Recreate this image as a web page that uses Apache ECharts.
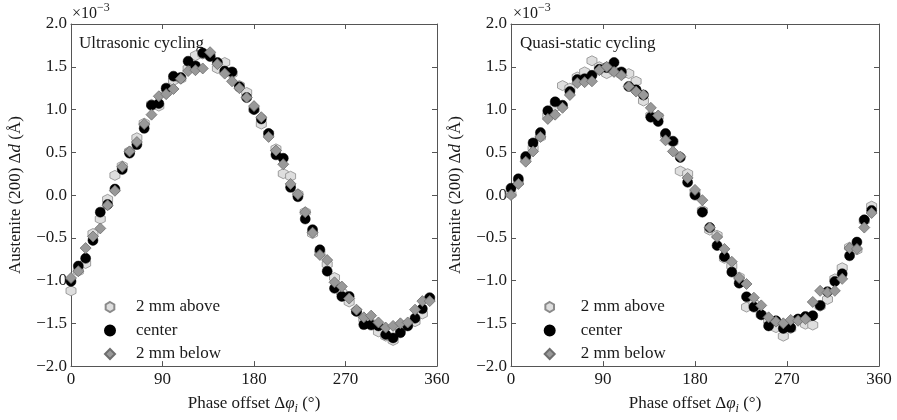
<!DOCTYPE html>
<html><head><meta charset="utf-8">
<script src="https://cdn.jsdelivr.net/npm/echarts@6/dist/echarts.min.js"></script>
<style>html,body{margin:0;padding:0;background:#fff}#c{width:897px;height:420px}</style>
</head><body><div id="c"></div>
<script>
// Phase offset (degrees)
const phase = [0,7.2,14.4,21.6,28.8,36,43.2,50.4,57.6,64.8,
  72,79.2,86.4,93.6,100.8,108,115.2,122.4,129.6,136.8,
  144,151.2,158.4,165.6,172.8,180,187.2,194.4,201.6,208.8,
  216,223.2,230.4,237.6,244.8,252,259.2,266.4,273.6,280.8,
  288,295.2,302.4,309.6,316.8,324,331.2,338.4,345.6,352.8];

// Austenite (200) Δd, in units of 1e-3 Å — Ultrasonic cycling
const ultraAbove = [-1.12,-0.89,-0.80,-0.45,-0.28,-0.05,0.23,0.34,0.51,0.67,
  0.84,1.06,1.04,1.20,1.34,1.36,1.48,1.63,1.65,1.64,
  1.48,1.55,1.42,1.28,1.20,1.00,0.83,0.72,0.54,0.25,
  0.22,0.01,-0.20,-0.45,-0.68,-0.81,-0.965,-1.14,-1.25,-1.36,
  -1.45,-1.50,-1.60,-1.65,-1.70,-1.57,-1.51,-1.48,-1.39,-1.21];
const ultraCenter = [-1.01,-0.83,-0.74,-0.53,-0.20,-0.11,0.07,0.30,0.49,0.59,
  0.78,1.05,1.07,1.25,1.39,1.375,1.565,1.51,1.66,1.62,
  1.55,1.45,1.44,1.265,1.14,1.00,0.89,0.72,0.47,0.43,
  0.09,-0.02,-0.28,-0.405,-0.64,-0.89,-1.09,-1.185,-1.185,-1.36,
  -1.515,-1.52,-1.53,-1.63,-1.67,-1.61,-1.53,-1.44,-1.33,-1.20];
const ultraBelow = [-0.97,-0.89,-0.62,-0.485,-0.39,-0.12,0.05,0.33,0.51,0.62,
  0.83,0.94,1.155,1.18,1.24,1.36,1.45,1.46,1.48,1.67,
  1.53,1.42,1.33,1.25,1.14,1.04,0.91,0.68,0.52,0.36,
  0.13,0.01,-0.20,-0.44,-0.70,-0.76,-1.02,-1.07,-1.21,-1.34,
  -1.43,-1.41,-1.49,-1.55,-1.53,-1.50,-1.49,-1.34,-1.24,-1.24];

// Quasi-static cycling
const quasiAbove = [0.01,0.15,0.42,0.55,0.68,0.93,1.03,1.28,1.25,1.38,
  1.44,1.57,1.50,1.42,1.45,1.41,1.42,1.33,1.10,0.93,
  0.92,0.70,0.62,0.28,0.25,0.02,-0.18,-0.41,-0.47,-0.74,
  -0.83,-0.96,-1.31,-1.27,-1.40,-1.47,-1.55,-1.65,-1.56,-1.45,
  -1.51,-1.52,-1.30,-1.22,-0.98,-0.85,-0.61,-0.64,-0.30,-0.13];
const quasiCenter = [0.08,0.19,0.45,0.61,0.73,0.985,1.09,1.05,1.21,1.35,
  1.36,1.40,1.47,1.49,1.55,1.44,1.27,1.23,1.17,0.91,
  0.86,0.72,0.63,0.44,0.15,0.00,-0.20,-0.38,-0.59,-0.72,
  -0.90,-1.03,-1.19,-1.31,-1.40,-1.53,-1.47,-1.56,-1.55,-1.45,
  -1.42,-1.41,-1.29,-1.13,-1.01,-0.92,-0.71,-0.55,-0.29,-0.18];
const quasiBelow = [0.00,0.13,0.39,0.51,0.68,0.89,0.94,1.02,1.17,1.31,
  1.32,1.33,1.46,1.50,1.44,1.40,1.27,1.21,1.17,1.02,
  0.93,0.64,0.51,0.45,0.20,0.06,-0.06,-0.38,-0.49,-0.63,
  -0.78,-0.97,-1.04,-1.20,-1.29,-1.43,-1.48,-1.50,-1.46,-1.47,
  -1.45,-1.25,-1.12,-1.14,-1.12,-0.98,-0.62,-0.63,-0.38,-0.21];

const seriesNames = ['2 mm above','center','2 mm below'];
const panelTitles = ['Ultrasonic cycling','Quasi-static cycling'];
const xTicks = {min:0, max:360, interval:90};
const yTicks = {min:-2, max:2, interval:0.5};

const FONT = '"Liberation Serif", "Times New Roman", serif';
const AX = '#555';
const TXT = '#1a1a1a';
const HEX = 'path://M0,-1L0.866,-0.5L0.866,0.5L0,1L-0.866,0.5L-0.866,-0.5Z';

function fmtY(v){ return (v < 0 ? '\u2212' : '') + Math.abs(v).toFixed(1); }
function pts(ys){ return phase.map((x,i)=>[x, ys[i]]); }

const grids = [
  {left:71, top:24, width:366, height:352},
  {left:511, top:24, width:368, height:352}
];
const xAxes = [], yAxes = [];
const axLine = {show:true, onZero:false, lineStyle:{color:AX, width:1}};
const axTick = {show:true, inside:true, length:5, lineStyle:{color:AX, width:1}};
for (let g = 0; g < 2; g++) {
  xAxes.push({type:'value', gridIndex:g, position:'bottom', min:xTicks.min, max:xTicks.max, interval:xTicks.interval,
    axisLine:axLine, axisTick:axTick, splitLine:{show:false},
    axisLabel:{color:TXT, fontFamily:FONT, fontSize:17, margin:5, showMinLabel:true, showMaxLabel:true},
    name:'Phase offset \u0394{it|\u03c6}{sub|i} (\u00b0)', nameLocation:'middle', nameGap:22,
    nameTextStyle:{color:TXT, fontFamily:FONT, fontSize:17, lineHeight:22,
      rich:{it:{fontFamily:FONT, fontStyle:'italic', fontSize:17, color:TXT, lineHeight:22},
            sub:{fontFamily:FONT, fontStyle:'italic', fontSize:12, color:TXT, lineHeight:12, verticalAlign:'bottom'}}}
  });
  xAxes.push({type:'value', gridIndex:g, position:'top', min:xTicks.min, max:xTicks.max, interval:xTicks.interval,
    axisLine:axLine, axisTick:axTick, splitLine:{show:false}, axisLabel:{show:false}});
  yAxes.push({type:'value', gridIndex:g, position:'left', min:yTicks.min, max:yTicks.max, interval:yTicks.interval,
    axisLine:axLine, axisTick:axTick, splitLine:{show:false},
    axisLabel:{color:TXT, fontFamily:FONT, fontSize:17, margin:4, formatter:fmtY},
    name:'Austenite (200) \u0394{it|d} (\u00c5)', nameLocation:'middle', nameGap:47,
    nameTextStyle:{color:TXT, fontFamily:FONT, fontSize:17,
      rich:{it:{fontFamily:FONT, fontStyle:'italic', fontSize:17, color:TXT}}}
  });
  yAxes.push({type:'value', gridIndex:g, position:'right', min:yTicks.min, max:yTicks.max, interval:yTicks.interval,
    axisLine:axLine, axisTick:axTick, splitLine:{show:false}, axisLabel:{show:false}});
}

const styles = [
  {symbol:HEX, symbolSize:10, itemStyle:{color:'#dedede', borderColor:'#8a8a8a', borderWidth:0.8, opacity:1}},
  {symbol:'circle', symbolSize:10, itemStyle:{color:'#000', borderColor:'#000', borderWidth:0.5, opacity:1}},
  {symbol:'diamond', symbolSize:11, itemStyle:{color:'#999', borderColor:'#6e6e6e', borderWidth:0.8, opacity:1}}
];
const panelData = [[ultraAbove, ultraCenter, ultraBelow],[quasiAbove, quasiCenter, quasiBelow]];
const series = [];
for (let g = 0; g < 2; g++) {
  for (let s = 0; s < 3; s++) {
    series.push(Object.assign({type:'scatter', name:seriesNames[s], xAxisIndex:g*2, yAxisIndex:g*2,
      data:pts(panelData[g][s]), emphasis:{disabled:true}}, styles[s]));
  }
}

const legendBase = {orient:'vertical', data:seriesNames, itemWidth:10, itemHeight:10, itemGap:6.5,
  top:293.5, selectedMode:false};
const legends = [
  Object.assign({}, legendBase, {left:99, textStyle:{color:TXT, fontFamily:FONT, fontSize:17, lineHeight:17, padding:[0,0,0,16]}}),
  Object.assign({}, legendBase, {left:538.7, textStyle:{color:TXT, fontFamily:FONT, fontSize:17, lineHeight:17, padding:[0,0,0,21]}})
];

const graphic = [
  {type:'text', left:79, top:35, style:{text:panelTitles[0], fontFamily:FONT, fontSize:17, fill:TXT}},
  {type:'text', left:520, top:35, style:{text:panelTitles[1], fontFamily:FONT, fontSize:17, fill:TXT}},
  {type:'text', left:72, top:6, style:{text:'\u00d710', fontFamily:FONT, fontSize:16, fill:TXT}},
  {type:'text', left:97, top:2, style:{text:'\u22123', fontFamily:FONT, fontSize:12, fill:TXT}},
  {type:'text', left:513, top:6, style:{text:'\u00d710', fontFamily:FONT, fontSize:16, fill:TXT}},
  {type:'text', left:538, top:2, style:{text:'\u22123', fontFamily:FONT, fontSize:12, fill:TXT}}
];

const chart = echarts.init(document.getElementById('c'), null, {renderer:'canvas'});
chart.setOption({
  animation:false, backgroundColor:'#fff',
  grid:grids, xAxis:xAxes, yAxis:yAxes, series:series, legend:legends, graphic:graphic
});
</script></body></html>
